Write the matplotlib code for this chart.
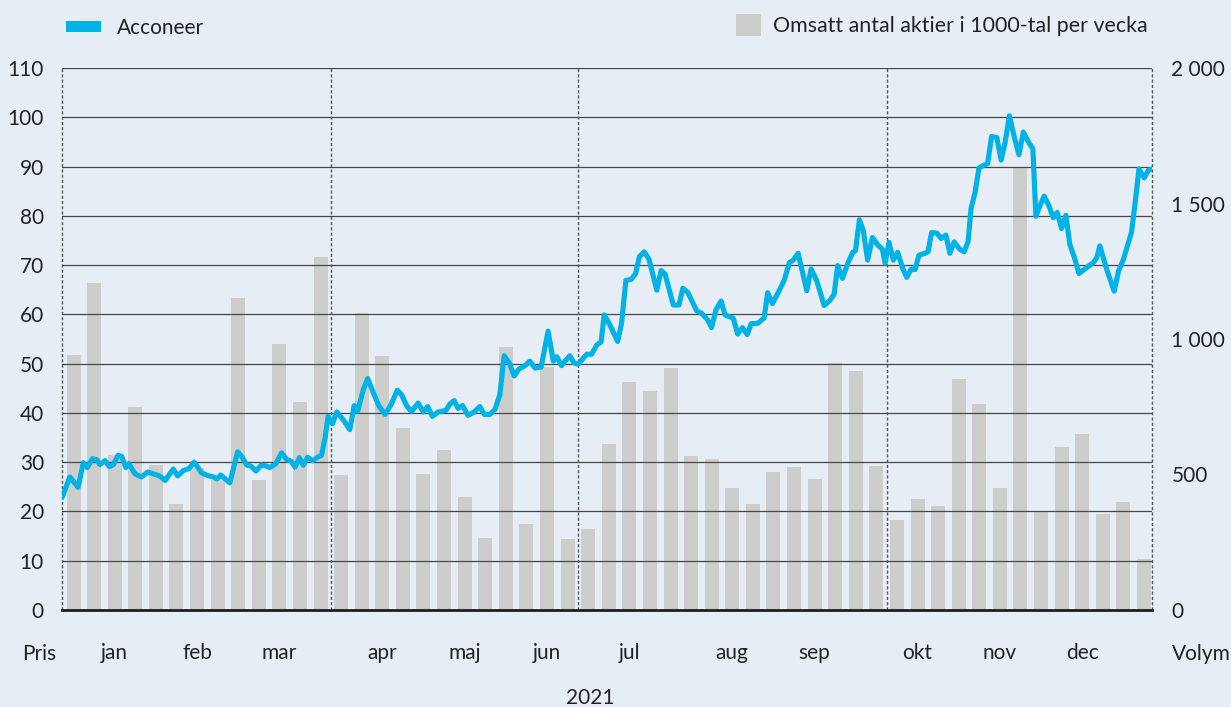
import numpy as np
import matplotlib.pyplot as plt
from matplotlib.patches import Patch

# ── Data ────────────────────────────────────────────────────────────
# omsatt antal aktier (1000-tal) per vecka, 53 veckor
volym = [942, 1205, 571, 750, 534, 390, 523, 480, 1151, 478, 981, 769, 1304,
         500, 1095, 938, 673, 503, 589, 416, 265, 970, 317, 897, 262,
         299, 614, 842, 809, 894, 567, 556, 449, 390, 508, 526, 482, 911, 882, 530,
         331, 409, 383, 853, 761, 449, 1633, 360, 603, 651, 353, 398, 189]

# kurs (kr) per handelsdag
pris_dag = [0, 1.8, 3.7, 4.9, 5.8, 7.0, 8.0, 8.7, 9.9, 10.9,
            11.8, 12.9, 13.7, 14.7, 15.4, 16.8, 18.3, 19.7, 21.4, 22.5,
            23.7, 25.6, 26.6, 27.9, 29.2, 30.4, 32.1, 33.8, 34.8, 35.6,
            36.5, 38.6, 40.4, 41.3, 42.5, 43.5, 44.6, 45.8, 47.1, 47.8,
            49.2, 50.5, 51.7, 52.7, 53.6, 54.6, 55.5, 56.5, 57.6, 58.8,
            59.7, 60.5, 61.2, 62.2, 63.2, 64.7, 66.2, 67.2, 68.0, 69.3,
            70.3, 71.6, 72.9, 74.3, 75.7, 77.1, 78.1, 79.3, 80.4, 81.9,
            83.1, 84.1, 85.2, 86.5, 88.3, 89.2, 90.2, 91.1, 92.1, 93.4,
            94.8, 96.1, 97.1, 98.4, 99.6, 100.7, 101.7, 102.9, 104.0, 105.1,
            106.5, 107.6, 108.8, 110.2, 111.8, 113.0, 113.8, 114.9, 115.7, 116.8,
            117.8, 118.7, 119.5, 120.7, 121.8, 123.0, 124.0, 124.7, 126.0, 127.8,
            128.7, 129.7, 130.9, 131.9, 132.8, 133.9, 135.0, 136.8, 137.8, 138.7,
            140.6, 141.9, 142.8, 143.9, 146.0, 147.1, 148.5, 149.4, 150.4, 151.6,
            152.5, 154.4, 155.4, 156.5, 157.6, 158.5, 160.1, 161.5, 162.3, 163.4,
            164.6, 166.1, 167.3, 168.2, 169.3, 171.3, 172.3, 173.6, 175.3, 176.6,
            177.6, 178.4, 179.5, 180.8, 181.9, 182.5, 183.4, 184.3, 185.3, 186.4,
            187.6, 188.7, 189.3, 190.2, 191.2, 192.2, 193.3, 194.3, 195.3, 196.2,
            197.1, 198.5, 199.2, 200.0, 201.2, 202.2, 203.3, 204.2, 205.2, 206.5,
            207.5, 208.4, 209.1, 210.0, 210.9, 211.9, 212.9, 213.8, 215.0, 216.0,
            216.9, 217.9, 219.0, 220.1, 221.1, 222.2, 223.3, 224.0, 224.9, 225.9,
            227.0, 228.0, 228.9, 229.9, 230.9, 231.8, 232.8, 233.9, 235.1, 236.0,
            237.2, 238.0, 238.7, 240.3, 242.0, 243.0, 244.1, 246.0, 247.0, 247.7,
            248.9, 249.9, 251.0]
pris = [22.8, 27.0, 24.9, 29.9, 28.9, 30.7, 30.5, 29.5, 30.3, 29.1,
        29.5, 31.4, 31.2, 28.9, 29.7, 27.6, 27.0, 28.0, 27.5, 27.2,
        26.3, 28.6, 27.2, 28.3, 28.7, 30.0, 27.8, 27.2, 27.0, 26.6,
        27.4, 25.8, 32.1, 31.2, 29.4, 29.2, 28.2, 29.4, 29.2, 28.9,
        29.7, 31.9, 30.5, 30.2, 29.0, 30.9, 29.4, 31.0, 30.3, 31.0,
        31.4, 34.9, 39.3, 37.8, 40.2, 38.6, 36.6, 41.5, 40.3, 44.7,
        47.0, 44.1, 41.4, 39.7, 41.7, 44.6, 43.7, 41.4, 40.3, 42.0,
        40.2, 41.3, 39.3, 40.2, 40.5, 41.8, 42.5, 40.9, 41.5, 39.5,
        40.2, 41.3, 39.7, 39.7, 40.7, 43.7, 51.6, 50.1, 47.5, 48.9,
        49.6, 50.5, 49.1, 49.3, 56.6, 50.5, 51.4, 49.6, 50.5, 51.6,
        50.1, 49.9, 50.7, 51.9, 51.9, 53.8, 54.4, 59.9, 57.9, 54.5,
        58.2, 66.9, 67.1, 68.2, 71.7, 72.7, 71.2, 64.9, 68.9, 68.2,
        61.9, 61.9, 65.3, 64.5, 60.7, 60.2, 58.9, 57.3, 60.9, 62.7,
        59.9, 59.2, 56.0, 57.3, 55.9, 58.1, 58.2, 59.3, 64.4, 62.2,
        64.2, 66.9, 70.5, 71.0, 72.4, 64.8, 69.2, 66.8, 61.8, 62.8,
        64.1, 69.9, 67.3, 70.5, 72.6, 72.9, 79.2, 77.0, 71.0, 75.6,
        74.1, 73.2, 70.4, 74.6, 71.0, 72.6, 69.5, 67.5, 69.2, 69.1,
        72.0, 72.4, 72.7, 76.6, 76.5, 75.4, 76.1, 72.4, 74.7, 73.2,
        72.7, 74.8, 81.6, 84.7, 89.7, 90.2, 90.6, 96.1, 95.9, 91.3,
        94.8, 100.3, 96.1, 92.4, 97.0, 95.1, 93.6, 79.9, 82.0, 84.0,
        82.0, 79.6, 80.7, 77.4, 80.1, 74.2, 71.7, 68.3, 69.1, 69.7,
        70.5, 71.5, 73.9, 69.1, 64.7, 68.8, 71.1, 76.7, 84.0, 89.5,
        87.7, 89.3, 89.5]

manader = ["jan", "feb", "mar", "apr", "maj", "jun",
           "jul", "aug", "sep", "okt", "nov", "dec"]
manad_vecka = [2, 6, 10, 15, 19, 23, 27, 32, 36, 41, 45, 49]
kvartal_grans = [12.5, 24.5, 39.5]
volym_ticks = [0, 500, 1000, 1500, 2000]

# ── Stil ────────────────────────────────────────────────────────────
BG = "#e6edf4"
BLA = "#00b2e6"
GRA = "#cdcecc"
FS = 15
plt.rcParams["font.family"] = ["Lato", "DejaVu Sans"]

W, H = 1231, 707
fig = plt.figure(figsize=(W / 100, H / 100), dpi=100, facecolor=BG)
ax = fig.add_axes([62 / W, 1 - 610 / H, 1090 / W, 542 / H])
axv = ax.twinx()
ax.set_zorder(axv.get_zorder() + 1)
ax.patch.set_visible(False)

xmin, xmax = -0.56, 52.39
ax.set_xlim(xmin, xmax)
ax.set_ylim(0, 110)
axv.set_ylim(0, 2000)

# ── Staplar (volym) ─────────────────────────────────────────────────
axv.bar(np.arange(len(volym)), volym, width=0.68, color=GRA, zorder=1)

# ── Rutnät och kvartalslinjer ───────────────────────────────────────
for v in range(10, 111, 10):
    ax.axhline(v, color="#474747", lw=0.9, zorder=1)
for xv in [xmin] + kvartal_grans + [xmax]:
    ax.axvline(xv, color="#555555", lw=1.0, ls=(0, (2.2, 1.6)),
               clip_on=False, zorder=1.5)
ax.axhline(0, color="#1e1e1e", lw=2.0, zorder=2, clip_on=False)

# ── Kurslinje ───────────────────────────────────────────────────────
x_linje = xmin + np.array(pris_dag) / 250.7 * (xmax - xmin)
ax.plot(x_linje, pris, color=BLA, lw=3.7, solid_joinstyle="round",
        solid_capstyle="round", zorder=3)

# ── Axlar ───────────────────────────────────────────────────────────
for a in (ax, axv):
    for s in a.spines.values():
        s.set_visible(False)

ax.set_yticks(range(0, 111, 10))
ax.tick_params(axis="y", length=0, pad=13, labelsize=FS, colors="#222222")
axv.set_yticks(volym_ticks)
axv.set_yticklabels([f"{v:,}".replace(",", " ") for v in volym_ticks])
axv.tick_params(axis="y", length=0, pad=14, labelsize=FS, colors="#222222")
ax.set_xticks(manad_vecka, manader)
ax.tick_params(axis="x", length=0, pad=24, labelsize=FS, colors="#222222")

fig.text(22 / W, 1 - 654 / H, "Pris", ha="left", va="center", size=FS, color="#222222")
fig.text(1172 / W, 1 - 654 / H, "Volym", ha="left", va="center", size=FS, color="#222222")
fig.text(590 / W, 1 - 698 / H, "2021", ha="center", va="center", size=FS, color="#222222")

# ── Förklaringar ────────────────────────────────────────────────────
fig.legend(handles=[Patch(facecolor=BLA, edgecolor="none")], labels=["Acconeer"],
           loc="center left", bbox_to_anchor=(66 / W, 1 - 28 / H), frameon=False,
           handlelength=1.68, handleheight=0.48, handletextpad=0.77,
           borderpad=0, borderaxespad=0, fontsize=FS, labelcolor="#222222")
fig.legend(handles=[Patch(facecolor=GRA, edgecolor="none")],
           labels=["Omsatt antal aktier i 1000-tal per vecka"],
           loc="center right", bbox_to_anchor=(1148 / W, 1 - 25 / H), frameon=False,
           handlelength=1.15, handleheight=1.25, handletextpad=0.58,
           borderpad=0, borderaxespad=0, fontsize=15.4, labelcolor="#222222")

fig.savefig("out.png", dpi=100, facecolor=BG)
